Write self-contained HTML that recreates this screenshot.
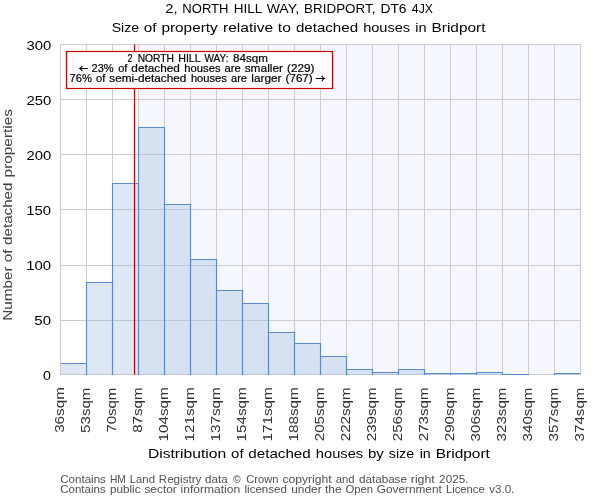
<!DOCTYPE html><html><head><meta charset="utf-8"><style>html,body{margin:0;padding:0;background:#fff;}svg{display:block;will-change:transform;}text{font-family:"Liberation Sans",sans-serif;}</style></head><body>
<svg width="600" height="500" viewBox="0 0 600 500">
<rect x="0" y="0" width="600" height="500" fill="#ffffff"/>
<rect x="138.5" y="44.5" width="442.0" height="330.0" fill="#f4f7fd"/>
<line x1="86.5" y1="44.5" x2="86.5" y2="374.5" stroke="#cccccc" stroke-width="1"/>
<line x1="112.5" y1="44.5" x2="112.5" y2="374.5" stroke="#cccccc" stroke-width="1"/>
<line x1="138.5" y1="44.5" x2="138.5" y2="374.5" stroke="#cccccc" stroke-width="1"/>
<line x1="164.5" y1="44.5" x2="164.5" y2="374.5" stroke="#cccccc" stroke-width="1"/>
<line x1="190.5" y1="44.5" x2="190.5" y2="374.5" stroke="#cccccc" stroke-width="1"/>
<line x1="216.5" y1="44.5" x2="216.5" y2="374.5" stroke="#cccccc" stroke-width="1"/>
<line x1="242.5" y1="44.5" x2="242.5" y2="374.5" stroke="#cccccc" stroke-width="1"/>
<line x1="268.5" y1="44.5" x2="268.5" y2="374.5" stroke="#cccccc" stroke-width="1"/>
<line x1="294.5" y1="44.5" x2="294.5" y2="374.5" stroke="#cccccc" stroke-width="1"/>
<line x1="320.5" y1="44.5" x2="320.5" y2="374.5" stroke="#cccccc" stroke-width="1"/>
<line x1="346.5" y1="44.5" x2="346.5" y2="374.5" stroke="#cccccc" stroke-width="1"/>
<line x1="372.5" y1="44.5" x2="372.5" y2="374.5" stroke="#cccccc" stroke-width="1"/>
<line x1="398.5" y1="44.5" x2="398.5" y2="374.5" stroke="#cccccc" stroke-width="1"/>
<line x1="424.5" y1="44.5" x2="424.5" y2="374.5" stroke="#cccccc" stroke-width="1"/>
<line x1="450.5" y1="44.5" x2="450.5" y2="374.5" stroke="#cccccc" stroke-width="1"/>
<line x1="476.5" y1="44.5" x2="476.5" y2="374.5" stroke="#cccccc" stroke-width="1"/>
<line x1="502.5" y1="44.5" x2="502.5" y2="374.5" stroke="#cccccc" stroke-width="1"/>
<line x1="528.5" y1="44.5" x2="528.5" y2="374.5" stroke="#cccccc" stroke-width="1"/>
<line x1="554.5" y1="44.5" x2="554.5" y2="374.5" stroke="#cccccc" stroke-width="1"/>
<line x1="60.5" y1="320.5" x2="580.5" y2="320.5" stroke="#cccccc" stroke-width="1"/>
<line x1="60.5" y1="265.5" x2="580.5" y2="265.5" stroke="#cccccc" stroke-width="1"/>
<line x1="60.5" y1="209.5" x2="580.5" y2="209.5" stroke="#cccccc" stroke-width="1"/>
<line x1="60.5" y1="154.5" x2="580.5" y2="154.5" stroke="#cccccc" stroke-width="1"/>
<line x1="60.5" y1="99.5" x2="580.5" y2="99.5" stroke="#cccccc" stroke-width="1"/>
<rect x="60.5" y="44.5" width="520.0" height="330.0" fill="none" stroke="#cccccc" stroke-width="1"/>
<defs><clipPath id="ax"><rect x="61" y="40" width="519" height="335"/></clipPath></defs>
<g clip-path="url(#ax)">
<rect x="60.5" y="363.5" width="26" height="11.5" fill="rgb(155,182,222)" fill-opacity="0.33"/>
<rect x="86.5" y="282.5" width="26" height="92.5" fill="rgb(155,182,222)" fill-opacity="0.33"/>
<rect x="112.5" y="183.5" width="26" height="191.5" fill="rgb(155,182,222)" fill-opacity="0.33"/>
<rect x="138.5" y="127.5" width="26" height="247.5" fill="rgb(155,182,222)" fill-opacity="0.33"/>
<rect x="164.5" y="204.5" width="26" height="170.5" fill="rgb(155,182,222)" fill-opacity="0.33"/>
<rect x="190.5" y="259.5" width="26" height="115.5" fill="rgb(155,182,222)" fill-opacity="0.33"/>
<rect x="216.5" y="290.5" width="26" height="84.5" fill="rgb(155,182,222)" fill-opacity="0.33"/>
<rect x="242.5" y="303.5" width="26" height="71.5" fill="rgb(155,182,222)" fill-opacity="0.33"/>
<rect x="268.5" y="332.5" width="26" height="42.5" fill="rgb(155,182,222)" fill-opacity="0.33"/>
<rect x="294.5" y="343.5" width="26" height="31.5" fill="rgb(155,182,222)" fill-opacity="0.33"/>
<rect x="320.5" y="356.5" width="26" height="18.5" fill="rgb(155,182,222)" fill-opacity="0.33"/>
<rect x="346.5" y="369.5" width="26" height="5.5" fill="rgb(155,182,222)" fill-opacity="0.33"/>
<rect x="372.5" y="372.5" width="26" height="2.5" fill="rgb(155,182,222)" fill-opacity="0.33"/>
<rect x="398.5" y="369.5" width="26" height="5.5" fill="rgb(155,182,222)" fill-opacity="0.33"/>
<rect x="424.5" y="373.5" width="26" height="1.5" fill="rgb(155,182,222)" fill-opacity="0.33"/>
<rect x="450.5" y="373.5" width="26" height="1.5" fill="rgb(155,182,222)" fill-opacity="0.33"/>
<rect x="476.5" y="372.5" width="26" height="2.5" fill="rgb(155,182,222)" fill-opacity="0.33"/>
<rect x="502.5" y="374.5" width="26" height="0.5" fill="rgb(155,182,222)" fill-opacity="0.33"/>
<rect x="554.5" y="373.5" width="26" height="1.5" fill="rgb(155,182,222)" fill-opacity="0.33"/>
<path d="M60.5 375 V363.5 H86.5 V375" fill="none" stroke="#5b8ad0" stroke-width="1.1"/>
<path d="M86.5 375 V282.5 H112.5 V375" fill="none" stroke="#5b8ad0" stroke-width="1.1"/>
<path d="M112.5 375 V183.5 H138.5 V375" fill="none" stroke="#5b8ad0" stroke-width="1.1"/>
<path d="M138.5 375 V127.5 H164.5 V375" fill="none" stroke="#5b8ad0" stroke-width="1.1"/>
<path d="M164.5 375 V204.5 H190.5 V375" fill="none" stroke="#5b8ad0" stroke-width="1.1"/>
<path d="M190.5 375 V259.5 H216.5 V375" fill="none" stroke="#5b8ad0" stroke-width="1.1"/>
<path d="M216.5 375 V290.5 H242.5 V375" fill="none" stroke="#5b8ad0" stroke-width="1.1"/>
<path d="M242.5 375 V303.5 H268.5 V375" fill="none" stroke="#5b8ad0" stroke-width="1.1"/>
<path d="M268.5 375 V332.5 H294.5 V375" fill="none" stroke="#5b8ad0" stroke-width="1.1"/>
<path d="M294.5 375 V343.5 H320.5 V375" fill="none" stroke="#5b8ad0" stroke-width="1.1"/>
<path d="M320.5 375 V356.5 H346.5 V375" fill="none" stroke="#5b8ad0" stroke-width="1.1"/>
<path d="M346.5 375 V369.5 H372.5 V375" fill="none" stroke="#5b8ad0" stroke-width="1.1"/>
<path d="M372.5 375 V372.5 H398.5 V375" fill="none" stroke="#5b8ad0" stroke-width="1.1"/>
<path d="M398.5 375 V369.5 H424.5 V375" fill="none" stroke="#5b8ad0" stroke-width="1.1"/>
<path d="M424.5 375 V373.5 H450.5 V375" fill="none" stroke="#5b8ad0" stroke-width="1.1"/>
<path d="M450.5 375 V373.5 H476.5 V375" fill="none" stroke="#5b8ad0" stroke-width="1.1"/>
<path d="M476.5 375 V372.5 H502.5 V375" fill="none" stroke="#5b8ad0" stroke-width="1.1"/>
<path d="M502.5 375 V374.5 H528.5 V375" fill="none" stroke="#5b8ad0" stroke-width="1.1"/>
<path d="M554.5 375 V373.5 H580.5 V375" fill="none" stroke="#5b8ad0" stroke-width="1.1"/>
</g>
<line x1="134.5" y1="44.5" x2="134.5" y2="374.5" stroke="#cc0000" stroke-width="1.2"/>
<rect x="66.5" y="51.5" width="266" height="37" fill="#ffffff" stroke="#cc0000" stroke-width="1.2"/>
<path d="M79.8 68.5 H87.6 M82.0 66.2 Q81.1 67.8 79.8 68.5 Q81.1 69.2 82.0 70.8" fill="none" stroke="#000000" stroke-width="1.15" stroke-linecap="round"/>
<path d="M316.5 78.5 H324.3 M322.1 76.2 Q323.0 77.8 324.3 78.5 Q323.0 79.2 322.1 80.8" fill="none" stroke="#000000" stroke-width="1.15" stroke-linecap="round"/>
<text x="165.19" y="13" font-size="13.1" textLength="12.29" lengthAdjust="spacingAndGlyphs" fill="#000000" stroke="#000000" stroke-width="0">2,</text>
<text x="182.35" y="13" font-size="13.1" textLength="46.11" lengthAdjust="spacingAndGlyphs" fill="#000000" stroke="#000000" stroke-width="0">NORTH</text>
<text x="233.67" y="13" font-size="13.1" textLength="28.57" lengthAdjust="spacingAndGlyphs" fill="#000000" stroke="#000000" stroke-width="0">HILL</text>
<text x="266.71" y="13" font-size="13.1" textLength="32.36" lengthAdjust="spacingAndGlyphs" fill="#000000" stroke="#000000" stroke-width="0">WAY,</text>
<text x="304.11" y="13" font-size="13.1" textLength="71.33" lengthAdjust="spacingAndGlyphs" fill="#000000" stroke="#000000" stroke-width="0">BRIDPORT,</text>
<text x="380.41" y="13" font-size="13.1" textLength="26.12" lengthAdjust="spacingAndGlyphs" fill="#000000" stroke="#000000" stroke-width="0">DT6</text>
<text x="411.86" y="13" font-size="13.1" textLength="21.03" lengthAdjust="spacingAndGlyphs" fill="#000000" stroke="#000000" stroke-width="0">4JX</text>
<text x="111.67" y="31.5" font-size="13.1" textLength="27.46" lengthAdjust="spacingAndGlyphs" fill="#000000" stroke="#000000" stroke-width="0">Size</text>
<text x="143.75" y="31.5" font-size="13.1" textLength="12.72" lengthAdjust="spacingAndGlyphs" fill="#000000" stroke="#000000" stroke-width="0">of</text>
<text x="161.40" y="31.5" font-size="13.1" textLength="56.41" lengthAdjust="spacingAndGlyphs" fill="#000000" stroke="#000000" stroke-width="0">property</text>
<text x="222.97" y="31.5" font-size="13.1" textLength="50.14" lengthAdjust="spacingAndGlyphs" fill="#000000" stroke="#000000" stroke-width="0">relative</text>
<text x="277.84" y="31.5" font-size="13.1" textLength="12.99" lengthAdjust="spacingAndGlyphs" fill="#000000" stroke="#000000" stroke-width="0">to</text>
<text x="295.95" y="31.5" font-size="13.1" textLength="62.11" lengthAdjust="spacingAndGlyphs" fill="#000000" stroke="#000000" stroke-width="0">detached</text>
<text x="363.15" y="31.5" font-size="13.1" textLength="46.92" lengthAdjust="spacingAndGlyphs" fill="#000000" stroke="#000000" stroke-width="0">houses</text>
<text x="415.16" y="31.5" font-size="13.1" textLength="11.33" lengthAdjust="spacingAndGlyphs" fill="#000000" stroke="#000000" stroke-width="0">in</text>
<text x="431.50" y="31.5" font-size="13.1" textLength="53.95" lengthAdjust="spacingAndGlyphs" fill="#000000" stroke="#000000" stroke-width="0">Bridport</text>
<text x="127.48" y="61.8" font-size="10.8" textLength="5.00" lengthAdjust="spacingAndGlyphs" fill="#000000" stroke="#000000" stroke-width="0.2">2</text>
<text x="137.67" y="61.8" font-size="10.8" textLength="36.32" lengthAdjust="spacingAndGlyphs" fill="#000000" stroke="#000000" stroke-width="0.2">NORTH</text>
<text x="178.22" y="61.8" font-size="10.8" textLength="22.45" lengthAdjust="spacingAndGlyphs" fill="#000000" stroke="#000000" stroke-width="0.2">HILL</text>
<text x="204.59" y="61.8" font-size="10.8" textLength="23.82" lengthAdjust="spacingAndGlyphs" fill="#000000" stroke="#000000" stroke-width="0.2">WAY:</text>
<text x="233.01" y="61.8" font-size="10.8" textLength="34.97" lengthAdjust="spacingAndGlyphs" fill="#000000" stroke="#000000" stroke-width="0.2">84sqm</text>
<text x="91.50" y="71.8" font-size="10.8" textLength="22.15" lengthAdjust="spacingAndGlyphs" fill="#000000" stroke="#000000" stroke-width="0.2">23%</text>
<text x="118.19" y="71.8" font-size="10.8" textLength="9.24" lengthAdjust="spacingAndGlyphs" fill="#000000" stroke="#000000" stroke-width="0.2">of</text>
<text x="131.34" y="71.8" font-size="10.8" textLength="48.51" lengthAdjust="spacingAndGlyphs" fill="#000000" stroke="#000000" stroke-width="0.2">detached</text>
<text x="184.33" y="71.8" font-size="10.8" textLength="36.21" lengthAdjust="spacingAndGlyphs" fill="#000000" stroke="#000000" stroke-width="0.2">houses</text>
<text x="224.42" y="71.8" font-size="10.8" textLength="16.22" lengthAdjust="spacingAndGlyphs" fill="#000000" stroke="#000000" stroke-width="0.2">are</text>
<text x="244.66" y="71.8" font-size="10.8" textLength="38.36" lengthAdjust="spacingAndGlyphs" fill="#000000" stroke="#000000" stroke-width="0.2">smaller</text>
<text x="287.03" y="71.8" font-size="10.8" textLength="27.32" lengthAdjust="spacingAndGlyphs" fill="#000000" stroke="#000000" stroke-width="0.2">(229)</text>
<text x="69.55" y="81.6" font-size="10.8" textLength="22.32" lengthAdjust="spacingAndGlyphs" fill="#000000" stroke="#000000" stroke-width="0.2">76%</text>
<text x="96.07" y="81.6" font-size="10.8" textLength="9.33" lengthAdjust="spacingAndGlyphs" fill="#000000" stroke="#000000" stroke-width="0.2">of</text>
<text x="109.28" y="81.6" font-size="10.8" textLength="77.02" lengthAdjust="spacingAndGlyphs" fill="#000000" stroke="#000000" stroke-width="0.2">semi-detached</text>
<text x="190.92" y="81.6" font-size="10.8" textLength="35.82" lengthAdjust="spacingAndGlyphs" fill="#000000" stroke="#000000" stroke-width="0.2">houses</text>
<text x="231.07" y="81.6" font-size="10.8" textLength="15.92" lengthAdjust="spacingAndGlyphs" fill="#000000" stroke="#000000" stroke-width="0.2">are</text>
<text x="251.34" y="81.6" font-size="10.8" textLength="30.20" lengthAdjust="spacingAndGlyphs" fill="#000000" stroke="#000000" stroke-width="0.2">larger</text>
<text x="285.57" y="81.6" font-size="10.8" textLength="27.14" lengthAdjust="spacingAndGlyphs" fill="#000000" stroke="#000000" stroke-width="0.2">(767)</text>
<text x="147.94" y="457.9" font-size="13.1" textLength="78.20" lengthAdjust="spacingAndGlyphs" fill="#000000" stroke="#000000" stroke-width="0">Distribution</text>
<text x="231.12" y="457.9" font-size="13.1" textLength="12.47" lengthAdjust="spacingAndGlyphs" fill="#000000" stroke="#000000" stroke-width="0">of</text>
<text x="248.31" y="457.9" font-size="13.1" textLength="62.44" lengthAdjust="spacingAndGlyphs" fill="#000000" stroke="#000000" stroke-width="0">detached</text>
<text x="315.85" y="457.9" font-size="13.1" textLength="47.35" lengthAdjust="spacingAndGlyphs" fill="#000000" stroke="#000000" stroke-width="0">houses</text>
<text x="368.01" y="457.9" font-size="13.1" textLength="15.73" lengthAdjust="spacingAndGlyphs" fill="#000000" stroke="#000000" stroke-width="0">by</text>
<text x="388.76" y="457.9" font-size="13.1" textLength="25.45" lengthAdjust="spacingAndGlyphs" fill="#000000" stroke="#000000" stroke-width="0">size</text>
<text x="419.71" y="457.9" font-size="13.1" textLength="11.06" lengthAdjust="spacingAndGlyphs" fill="#000000" stroke="#000000" stroke-width="0">in</text>
<text x="435.76" y="457.9" font-size="13.1" textLength="54.14" lengthAdjust="spacingAndGlyphs" fill="#000000" stroke="#000000" stroke-width="0">Bridport</text>
<text x="60.24" y="482.5" font-size="10.2" textLength="45.68" lengthAdjust="spacingAndGlyphs" fill="#555555" stroke="#555555" stroke-width="0.03">Contains</text>
<text x="109.93" y="482.5" font-size="10.2" textLength="15.90" lengthAdjust="spacingAndGlyphs" fill="#555555" stroke="#555555" stroke-width="0.03">HM</text>
<text x="129.79" y="482.5" font-size="10.2" textLength="25.15" lengthAdjust="spacingAndGlyphs" fill="#555555" stroke="#555555" stroke-width="0.03">Land</text>
<text x="158.74" y="482.5" font-size="10.2" textLength="42.64" lengthAdjust="spacingAndGlyphs" fill="#555555" stroke="#555555" stroke-width="0.03">Registry</text>
<text x="205.11" y="482.5" font-size="10.2" textLength="22.45" lengthAdjust="spacingAndGlyphs" fill="#555555" stroke="#555555" stroke-width="0.03">data</text>
<text x="233.24" y="482.5" font-size="10.2" textLength="7.39" lengthAdjust="spacingAndGlyphs" fill="#555555" stroke="#555555" stroke-width="0.03">©</text>
<text x="246.26" y="482.5" font-size="10.2" textLength="32.21" lengthAdjust="spacingAndGlyphs" fill="#555555" stroke="#555555" stroke-width="0.03">Crown</text>
<text x="282.48" y="482.5" font-size="10.2" textLength="49.15" lengthAdjust="spacingAndGlyphs" fill="#555555" stroke="#555555" stroke-width="0.03">copyright</text>
<text x="335.83" y="482.5" font-size="10.2" textLength="18.81" lengthAdjust="spacingAndGlyphs" fill="#555555" stroke="#555555" stroke-width="0.03">and</text>
<text x="358.94" y="482.5" font-size="10.2" textLength="48.01" lengthAdjust="spacingAndGlyphs" fill="#555555" stroke="#555555" stroke-width="0.03">database</text>
<text x="410.79" y="482.5" font-size="10.2" textLength="23.97" lengthAdjust="spacingAndGlyphs" fill="#555555" stroke="#555555" stroke-width="0.03">right</text>
<text x="439.13" y="482.5" font-size="10.2" textLength="29.27" lengthAdjust="spacingAndGlyphs" fill="#555555" stroke="#555555" stroke-width="0.03">2025.</text>
<text x="60.21" y="492.5" font-size="10.2" textLength="45.49" lengthAdjust="spacingAndGlyphs" fill="#555555" stroke="#555555" stroke-width="0.03">Contains</text>
<text x="109.91" y="492.5" font-size="10.2" textLength="30.58" lengthAdjust="spacingAndGlyphs" fill="#555555" stroke="#555555" stroke-width="0.03">public</text>
<text x="144.41" y="492.5" font-size="10.2" textLength="32.40" lengthAdjust="spacingAndGlyphs" fill="#555555" stroke="#555555" stroke-width="0.03">sector</text>
<text x="180.54" y="492.5" font-size="10.2" textLength="59.58" lengthAdjust="spacingAndGlyphs" fill="#555555" stroke="#555555" stroke-width="0.03">information</text>
<text x="244.55" y="492.5" font-size="10.2" textLength="42.33" lengthAdjust="spacingAndGlyphs" fill="#555555" stroke="#555555" stroke-width="0.03">licensed</text>
<text x="291.25" y="492.5" font-size="10.2" textLength="30.37" lengthAdjust="spacingAndGlyphs" fill="#555555" stroke="#555555" stroke-width="0.03">under</text>
<text x="325.02" y="492.5" font-size="10.2" textLength="16.68" lengthAdjust="spacingAndGlyphs" fill="#555555" stroke="#555555" stroke-width="0.03">the</text>
<text x="345.40" y="492.5" font-size="10.2" textLength="27.70" lengthAdjust="spacingAndGlyphs" fill="#555555" stroke="#555555" stroke-width="0.03">Open</text>
<text x="376.82" y="492.5" font-size="10.2" textLength="64.98" lengthAdjust="spacingAndGlyphs" fill="#555555" stroke="#555555" stroke-width="0.03">Government</text>
<text x="445.91" y="492.5" font-size="10.2" textLength="38.86" lengthAdjust="spacingAndGlyphs" fill="#555555" stroke="#555555" stroke-width="0.03">Licence</text>
<text x="489.15" y="492.5" font-size="10.2" textLength="25.21" lengthAdjust="spacingAndGlyphs" fill="#555555" stroke="#555555" stroke-width="0.03">v3.0.</text>
<text transform="translate(12.0,320.68) rotate(-90)" x="0" y="0" font-size="13.1" textLength="54.25" lengthAdjust="spacingAndGlyphs" fill="#404040" stroke="#404040" stroke-width="0">Number</text>
<text transform="translate(12.0,262.24) rotate(-90)" x="0" y="0" font-size="13.1" textLength="12.85" lengthAdjust="spacingAndGlyphs" fill="#404040" stroke="#404040" stroke-width="0">of</text>
<text transform="translate(12.0,244.88) rotate(-90)" x="0" y="0" font-size="13.1" textLength="62.28" lengthAdjust="spacingAndGlyphs" fill="#404040" stroke="#404040" stroke-width="0">detached</text>
<text transform="translate(12.0,177.41) rotate(-90)" x="0" y="0" font-size="13.1" textLength="68.39" lengthAdjust="spacingAndGlyphs" fill="#404040" stroke="#404040" stroke-width="0">properties</text>
<text x="43.07" y="379.90000000000003" font-size="12.8" textLength="7.92" lengthAdjust="spacingAndGlyphs" fill="#000000" stroke="#000000" stroke-width="0">0</text>
<text x="34.34" y="324.90000000000003" font-size="12.8" textLength="16.69" lengthAdjust="spacingAndGlyphs" fill="#000000" stroke="#000000" stroke-width="0">50</text>
<text x="26.16" y="269.90000000000003" font-size="12.8" textLength="24.89" lengthAdjust="spacingAndGlyphs" fill="#000000" stroke="#000000" stroke-width="0">100</text>
<text x="26.16" y="214.90000000000003" font-size="12.8" textLength="24.89" lengthAdjust="spacingAndGlyphs" fill="#000000" stroke="#000000" stroke-width="0">150</text>
<text x="26.40" y="159.90000000000003" font-size="12.8" textLength="24.80" lengthAdjust="spacingAndGlyphs" fill="#000000" stroke="#000000" stroke-width="0">200</text>
<text x="26.40" y="104.90000000000002" font-size="12.8" textLength="24.80" lengthAdjust="spacingAndGlyphs" fill="#000000" stroke="#000000" stroke-width="0">250</text>
<text x="26.42" y="49.90000000000002" font-size="12.8" textLength="24.72" lengthAdjust="spacingAndGlyphs" fill="#000000" stroke="#000000" stroke-width="0">300</text>
<text transform="translate(64.1,432.85) rotate(-90)" x="0" y="0" font-size="12.8" textLength="45.72" lengthAdjust="spacingAndGlyphs" fill="#333333" stroke="#333333" stroke-width="0">36sqm</text>
<text transform="translate(90.1,432.90) rotate(-90)" x="0" y="0" font-size="12.8" textLength="45.32" lengthAdjust="spacingAndGlyphs" fill="#333333" stroke="#333333" stroke-width="0">53sqm</text>
<text transform="translate(116.1,432.61) rotate(-90)" x="0" y="0" font-size="12.8" textLength="44.95" lengthAdjust="spacingAndGlyphs" fill="#333333" stroke="#333333" stroke-width="0">70sqm</text>
<text transform="translate(142.1,432.83) rotate(-90)" x="0" y="0" font-size="12.8" textLength="45.36" lengthAdjust="spacingAndGlyphs" fill="#333333" stroke="#333333" stroke-width="0">87sqm</text>
<text transform="translate(168.1,441.61) rotate(-90)" x="0" y="0" font-size="12.8" textLength="54.36" lengthAdjust="spacingAndGlyphs" fill="#333333" stroke="#333333" stroke-width="0">104sqm</text>
<text transform="translate(194.1,441.61) rotate(-90)" x="0" y="0" font-size="12.8" textLength="54.36" lengthAdjust="spacingAndGlyphs" fill="#333333" stroke="#333333" stroke-width="0">121sqm</text>
<text transform="translate(220.1,441.61) rotate(-90)" x="0" y="0" font-size="12.8" textLength="54.36" lengthAdjust="spacingAndGlyphs" fill="#333333" stroke="#333333" stroke-width="0">137sqm</text>
<text transform="translate(246.1,441.61) rotate(-90)" x="0" y="0" font-size="12.8" textLength="54.36" lengthAdjust="spacingAndGlyphs" fill="#333333" stroke="#333333" stroke-width="0">154sqm</text>
<text transform="translate(272.1,441.61) rotate(-90)" x="0" y="0" font-size="12.8" textLength="54.36" lengthAdjust="spacingAndGlyphs" fill="#333333" stroke="#333333" stroke-width="0">171sqm</text>
<text transform="translate(298.1,441.61) rotate(-90)" x="0" y="0" font-size="12.8" textLength="54.36" lengthAdjust="spacingAndGlyphs" fill="#333333" stroke="#333333" stroke-width="0">188sqm</text>
<text transform="translate(324.1,441.28) rotate(-90)" x="0" y="0" font-size="12.8" textLength="53.79" lengthAdjust="spacingAndGlyphs" fill="#333333" stroke="#333333" stroke-width="0">205sqm</text>
<text transform="translate(350.1,441.28) rotate(-90)" x="0" y="0" font-size="12.8" textLength="53.79" lengthAdjust="spacingAndGlyphs" fill="#333333" stroke="#333333" stroke-width="0">222sqm</text>
<text transform="translate(376.1,441.28) rotate(-90)" x="0" y="0" font-size="12.8" textLength="53.79" lengthAdjust="spacingAndGlyphs" fill="#333333" stroke="#333333" stroke-width="0">239sqm</text>
<text transform="translate(402.1,441.28) rotate(-90)" x="0" y="0" font-size="12.8" textLength="53.79" lengthAdjust="spacingAndGlyphs" fill="#333333" stroke="#333333" stroke-width="0">256sqm</text>
<text transform="translate(428.1,441.28) rotate(-90)" x="0" y="0" font-size="12.8" textLength="53.79" lengthAdjust="spacingAndGlyphs" fill="#333333" stroke="#333333" stroke-width="0">273sqm</text>
<text transform="translate(454.1,441.28) rotate(-90)" x="0" y="0" font-size="12.8" textLength="53.79" lengthAdjust="spacingAndGlyphs" fill="#333333" stroke="#333333" stroke-width="0">290sqm</text>
<text transform="translate(480.1,441.43) rotate(-90)" x="0" y="0" font-size="12.8" textLength="53.86" lengthAdjust="spacingAndGlyphs" fill="#333333" stroke="#333333" stroke-width="0">306sqm</text>
<text transform="translate(506.1,441.43) rotate(-90)" x="0" y="0" font-size="12.8" textLength="53.86" lengthAdjust="spacingAndGlyphs" fill="#333333" stroke="#333333" stroke-width="0">323sqm</text>
<text transform="translate(532.1,441.43) rotate(-90)" x="0" y="0" font-size="12.8" textLength="53.86" lengthAdjust="spacingAndGlyphs" fill="#333333" stroke="#333333" stroke-width="0">340sqm</text>
<text transform="translate(558.1,441.43) rotate(-90)" x="0" y="0" font-size="12.8" textLength="53.86" lengthAdjust="spacingAndGlyphs" fill="#333333" stroke="#333333" stroke-width="0">357sqm</text>
<text transform="translate(584.1,441.43) rotate(-90)" x="0" y="0" font-size="12.8" textLength="53.86" lengthAdjust="spacingAndGlyphs" fill="#333333" stroke="#333333" stroke-width="0">374sqm</text>
</svg></body></html>
